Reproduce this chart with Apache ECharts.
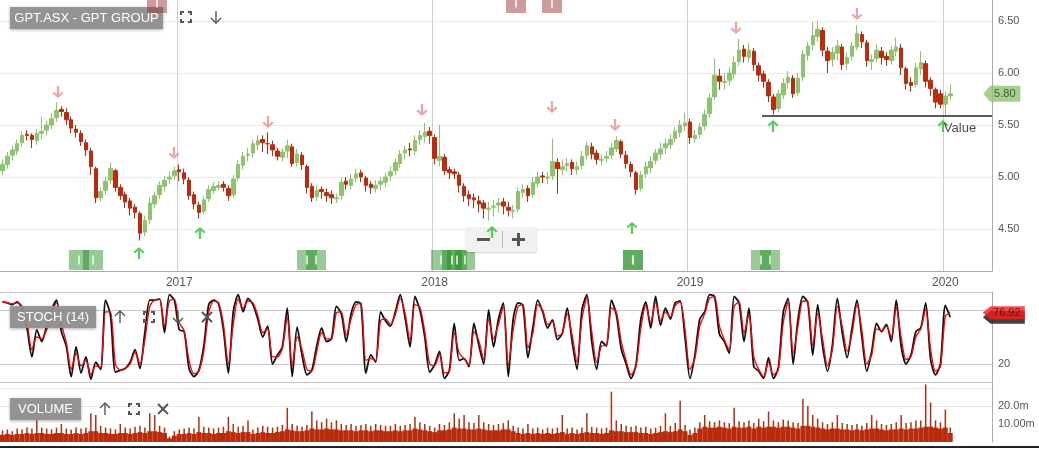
<!DOCTYPE html>
<html><head><meta charset="utf-8">
<script src="https://cdn.jsdelivr.net/npm/echarts@6/dist/echarts.min.js"></script>
<style>html,body{margin:0;padding:0;background:#fff;}#c{width:1039px;height:449px;}</style>
</head><body><div id="c"></div>
<script>
// ---- data (weekly bars, week ending Fridays from 2016-04-29) ----
const firstWeek = '2016-04-29';
const weekSlots = 202;
const yearTicks = [[36,'2017'],[88,'2018'],[140,'2019'],[192,'2020']];

const opens = [5.06,5.12,5.21,5.25,5.33,5.41,5.40,5.35,5.42,5.45,
5.50,5.57,5.65,5.62,5.55,5.46,5.42,5.33,5.25,5.08,
4.80,4.87,4.97,5.06,4.90,4.83,4.77,4.71,4.65,4.47,
4.59,4.74,4.83,4.91,4.98,5.01,5.07,5.04,4.97,4.83,
4.73,4.67,4.79,4.87,4.90,4.93,4.89,4.83,4.99,5.11,
5.21,5.23,5.31,5.36,5.32,5.31,5.25,5.19,5.25,5.29,
5.14,5.21,5.10,4.91,4.81,4.88,4.85,4.83,4.79,4.82,
4.96,4.92,4.99,5.04,4.99,4.93,4.89,4.93,4.95,5.01,
5.06,5.13,5.23,5.27,5.25,5.36,5.39,5.44,5.38,5.16,
5.19,5.07,5.05,5.02,4.91,4.83,4.80,4.77,4.75,4.69,
4.71,4.73,4.76,4.71,4.67,4.69,4.85,4.89,4.83,4.94,
5.01,4.99,5.01,5.14,5.07,5.11,5.14,5.07,5.11,5.21,
5.29,5.23,5.16,5.18,5.21,5.27,5.34,5.21,5.12,5.04,
4.89,5.03,5.09,5.16,5.22,5.28,5.31,5.37,5.43,5.49,
5.53,5.37,5.41,5.49,5.61,5.77,5.97,5.91,5.93,5.99,
6.11,6.23,6.15,6.21,6.07,5.99,5.91,5.77,5.66,5.79,
5.91,5.95,5.81,5.96,6.17,6.27,6.35,6.41,6.21,6.13,
6.19,6.25,6.09,6.16,6.25,6.37,6.29,6.11,6.14,6.21,
6.16,6.12,6.21,6.24,6.04,5.91,5.89,6.04,6.09,5.93,
5.84,5.80,5.70,5.78];
const closes = [5.12,5.20,5.26,5.32,5.40,5.40,5.36,5.42,5.44,5.50,
5.56,5.64,5.63,5.55,5.47,5.43,5.34,5.26,5.10,4.80,
4.86,4.96,5.08,4.90,4.82,4.76,4.70,4.66,4.46,4.58,
4.75,4.82,4.92,4.97,5.00,5.06,5.05,4.98,4.82,4.74,
4.66,4.78,4.88,4.91,4.92,4.90,4.82,4.98,5.12,5.20,
5.22,5.32,5.35,5.33,5.32,5.26,5.20,5.24,5.30,5.13,
5.22,5.12,4.90,4.80,4.87,4.86,4.82,4.80,4.80,4.95,
4.93,4.98,5.03,5.00,4.92,4.90,4.92,4.96,5.00,5.05,
5.14,5.22,5.26,5.26,5.35,5.40,5.43,5.40,5.18,5.20,
5.06,5.04,5.03,4.92,4.82,4.79,4.78,4.74,4.70,4.70,
4.72,4.75,4.72,4.68,4.68,4.86,4.88,4.82,4.95,5.00,
5.00,5.00,5.15,5.08,5.10,5.13,5.08,5.10,5.20,5.30,
5.22,5.17,5.17,5.20,5.28,5.35,5.22,5.13,5.05,4.88,
5.02,5.10,5.15,5.23,5.27,5.32,5.36,5.44,5.50,5.52,
5.38,5.40,5.48,5.60,5.76,5.98,5.92,5.92,6.00,6.10,
6.22,6.16,6.22,6.08,5.98,5.92,5.78,5.65,5.80,5.90,
5.96,5.80,5.95,6.18,6.26,6.36,6.42,6.22,6.12,6.20,
6.26,6.08,6.15,6.26,6.38,6.30,6.12,6.13,6.22,6.15,
6.13,6.22,6.25,6.05,5.90,5.88,6.05,6.10,5.92,5.85,
5.72,5.70,5.78,5.80];
const lows = [5.02,5.08,5.16,5.21,5.29,5.35,5.28,5.31,5.36,5.40,
5.46,5.53,5.58,5.50,5.42,5.38,5.30,5.20,5.02,4.75,
4.76,4.83,4.93,4.86,4.78,4.70,4.63,4.60,4.39,4.43,
4.55,4.70,4.79,4.86,4.93,4.97,4.96,4.93,4.78,4.69,
4.60,4.64,4.76,4.84,4.87,4.86,4.77,4.80,4.96,5.07,
5.15,5.19,5.26,5.24,5.22,5.20,5.16,5.15,5.18,5.10,
5.10,5.07,4.84,4.76,4.77,4.79,4.76,4.74,4.75,4.78,
4.88,4.88,4.95,4.95,4.86,4.84,4.85,4.87,4.90,4.96,
5.02,5.09,5.17,5.20,5.21,5.31,5.33,5.32,5.12,5.10,
5.02,4.98,4.98,4.85,4.76,4.72,4.70,4.66,4.60,4.58,
4.62,4.66,4.64,4.62,4.60,4.66,4.80,4.76,4.80,4.90,
4.94,4.93,4.97,4.84,5.02,5.05,5.02,5.02,5.07,5.17,
5.17,5.12,5.11,5.14,5.17,5.24,5.18,5.08,5.00,4.83,
4.86,4.99,5.04,5.12,5.17,5.22,5.27,5.33,5.38,5.44,
5.32,5.33,5.37,5.45,5.57,5.74,5.84,5.84,5.88,5.94,
6.07,6.10,6.10,6.02,5.92,5.86,5.72,5.60,5.62,5.75,
5.85,5.76,5.78,5.92,6.12,6.22,6.30,6.16,6.00,6.06,
6.12,6.03,6.03,6.12,6.22,6.24,6.06,6.03,6.10,6.08,
6.07,6.08,6.16,5.98,5.84,5.82,5.86,5.98,5.86,5.78,
5.66,5.66,5.60,5.74];
const highs = [5.17,5.24,5.30,5.36,5.44,5.45,5.42,5.46,5.58,5.54,
5.61,5.72,5.68,5.66,5.58,5.50,5.45,5.36,5.28,5.10,
4.90,5.00,5.14,5.08,4.93,4.86,4.80,4.74,4.67,4.63,
4.80,4.86,4.96,5.01,5.05,5.10,5.12,5.08,5.00,4.86,
4.76,4.82,4.92,4.95,4.96,4.96,4.92,5.02,5.16,5.24,
5.28,5.36,5.40,5.40,5.43,5.35,5.28,5.28,5.36,5.32,
5.27,5.24,5.12,4.94,4.92,4.91,4.89,4.87,4.84,5.00,
5.00,5.03,5.08,5.07,5.01,4.96,4.97,5.00,5.04,5.10,
5.18,5.26,5.30,5.33,5.40,5.45,5.52,5.48,5.41,5.50,
5.22,5.10,5.08,5.05,4.94,4.87,4.84,4.82,4.78,4.76,
4.78,4.80,4.80,4.76,4.73,4.90,4.93,4.92,5.00,5.05,
5.05,5.05,5.37,5.18,5.17,5.18,5.17,5.15,5.25,5.34,
5.33,5.26,5.22,5.25,5.33,5.39,5.36,5.25,5.15,5.06,
5.06,5.15,5.20,5.27,5.33,5.37,5.41,5.48,5.55,5.62,
5.56,5.45,5.52,5.65,5.80,6.14,6.04,6.00,6.06,6.16,
6.33,6.27,6.29,6.24,6.10,6.02,5.94,5.80,5.84,5.95,
6.02,5.98,6.00,6.22,6.30,6.49,6.50,6.44,6.25,6.25,
6.32,6.28,6.20,6.30,6.46,6.40,6.32,6.18,6.28,6.25,
6.20,6.26,6.34,6.28,6.06,5.96,6.10,6.21,6.12,5.96,
5.86,5.84,5.82,5.89];

const stochK = [89,88,86,89,82,60,28,58,45,62,
80,91,56,40,6,39,10,28,3,22,
14,91,74,11,13,15,22,36,15,55,
91,91,92,55,97,91,58,56,15,6,
13,40,86,91,87,58,10,78,97,78,
93,86,70,50,62,20,30,39,82,6,
61,30,8,13,40,60,45,48,84,76,
45,76,89,87,10,30,22,78,68,62,
78,97,71,39,95,80,50,11,19,34,
4,13,65,24,26,17,65,41,20,80,
39,70,88,6,70,88,85,27,60,91,
78,60,69,47,54,82,45,14,80,97,
45,14,45,40,91,75,37,20,4,19,
70,89,60,95,63,82,70,88,90,49,
4,30,70,78,97,95,53,45,32,95,
88,45,82,17,12,4,27,4,16,78,
93,20,70,95,88,30,86,40,12,41,
93,55,27,60,91,50,12,34,65,56,
64,45,91,40,20,30,56,60,88,25,
8,20,85,72];
const stochD = [89,88,87,88,84,66,36,50,48,58,
76,88,64,44,14,32,18,24,8,18,
16,78,78,20,13,15,20,33,20,47,
84,91,92,62,90,92,66,57,24,9,
12,34,77,90,88,64,20,64,92,82,
90,88,74,55,59,28,28,37,72,18,
50,36,14,12,34,55,48,48,77,78,
52,70,86,87,24,26,24,68,70,64,
75,93,76,46,86,83,56,20,18,31,
10,12,55,32,26,19,56,46,25,70,
48,64,84,18,58,84,86,38,54,86,
80,64,67,51,54,76,52,22,70,93,
56,22,40,41,82,78,45,24,8,17,
60,85,66,89,68,78,72,85,89,58,
14,26,62,76,93,95,62,47,36,84,
89,54,75,28,14,6,22,8,14,66,
89,32,62,90,89,40,76,48,18,36,
84,62,34,54,86,58,20,30,59,57,
62,50,83,50,25,28,50,59,81,36,
12,17,73,76.92];

// weekly typical daily volume (millions) and weekly largest daily volume
const volumeBase = [4,4.5,4,4.5,4.5,5,4.5,5,5,4.5,
4.5,5,5,4.5,4.5,5,4.5,5,6,6,
5,5,4.5,4.5,5,5,4.5,5,5.5,5,
6,6,5.5,5,2,3.5,4.5,4.5,5,4.5,
5.5,5,5,4.5,5,5,6,5.5,5,5.5,
5.5,4.5,5,5.5,5,5,5.5,6,7,6.5,
6,6,6.5,7.5,7,7,7.5,7,7,6.5,
6.5,6.5,6,6.5,6.5,6,6.5,6.5,6,6,
6.5,6,6.5,6.5,7.5,7,6.5,6,5.5,6.5,
6.5,7,8,7.5,7.5,7,7,7.5,7,6.5,
6.5,6.5,7,7,6,5,4.5,5,4.5,5,
4.5,5,4.5,5,5.5,4.5,5,4.5,5,5.5,
5,5,4.5,5,6.5,6,6,5.5,5.5,5.5,
5,5,4.5,5,5.5,6,5.5,6,7,6,
4,5,7.5,8.5,8,8,8.5,8,7.5,8.5,
8,8,8.5,7.5,8.5,8,8.5,8.5,8,8.5,
8.5,8,7.5,9,9,8.5,8,7.5,7,7.5,
7.5,7,7,6.5,7,6.5,7,7.5,7.5,7,
6.5,7,7,7.5,7,7.5,7.5,8,8.5,8.5,
8,7.5,8,5];
const volumePeak = [6.5,7,6,7.5,7,8,7.5,12,8,7.5,
7,8,10,7.5,7,8,7.5,8,16,15,
9,8,7.5,7,10,8,7.5,8.5,9,8,
16,15,9,8,3,6,7,7.5,8,7.5,
14,8.5,8,7.5,8,8.5,14,10,8.5,9,
12,7,8,9,8.5,8,8.5,9.5,19,10,
9,8.5,9.5,17,12,11,13,11,12,10,
9.5,10,9,9.5,10,9,10,9.5,9,9,
10,9,9.5,10,14,11,10,9,8,10,
9.5,11,16,13,15,11,10.5,15,11,10,
9.5,10,10.5,12,9,8,7.5,10,7.5,8,
7,8,7.5,8,15,7.5,8,7,8,16,
8.5,8,7.5,8,28,12,10,9,8.5,9,
8,8.5,7.5,8,9,16,9,10.5,23,9.5,
7,8,11,15,11.5,11,12,11,10.5,19,
11.5,11,12,10.5,13,11.5,17,12,11,12.5,
12,11,10.5,24,20,15,13,11,10,11,
15,10.5,10,9.5,10,9,10.5,15,12,10,
9.5,10,11,15,10.5,11,12,12,32,22,
12,11,18,8];

const sellSignals = [[11.31,5.817],[34.93,5.231],[54.07,5.529],[85.43,5.644],[111.90,5.673],[124.73,5.50],[149.37,6.433],[174.0,6.567]];
const buySignals = [[27.80,4.269],[40.22,4.462],[99.68,4.471],[128.19,4.51],[156.9,5.49],[191.52,5.49]];
const signalBlocks = [15.59,18.44,62.01,63.85,89.30,91.54,92.56,94.19,128.39,128.39,154.46,156.29];
const signalBlockLevel = 4.202;
const eventBlocks = [31.47,104.57,111.90];
const eventBlockLevel = 6.673;
const valueLevel = 5.587, valueFrom = 154.66, valueLabelAt = 191.7;
const tagSlot = 203.5;

// ---- build ----
const categories = [];
const d0 = new Date(firstWeek + 'T00:00:00Z');
for (let i = 0; i < weekSlots; i++) {
  const d = new Date(d0.getTime() + i * 7 * 86400000);
  categories.push(d.toISOString().slice(0, 10));
}
const yearMap = {}; yearTicks.forEach(t => yearMap[t[0]] = t[1]);
const candles = closes.map((c, i) => [opens[i], c, lows[i], highs[i]]);
const UP = '#8dc46f', DOWN = '#c0290d';
const upArrow = 'path://M5,0L10,5L8.6,6.4L6,3.8L6,12L4,12L4,3.8L1.4,6.4L0,5Z';
const downArrow = 'path://M5,12L10,7L8.6,5.6L6,8.2L6,0L4,0L4,8.2L1.4,5.6L0,7Z';
const tagPath = 'path://M0,8L7,0L38,0L38,16L7,16Z';

const grids = [
  {left: 0, right: 47, top: 0, height: 271},
  {left: 0, right: 47, top: 292, height: 90},
  {left: 0, right: 47, top: 383, height: 59}
];
const catAxis = (g, show) => ({
  type: 'category', gridIndex: g, data: categories, boundaryGap: true,
  axisLine: {show: show, onZero: false, lineStyle: {color: '#aaa'}}, axisTick: {show: false},
  axisLabel: {show: show, interval: (i) => yearMap[i] !== undefined, formatter: (v, i) => yearMap[i] || '',
    color: '#555', fontSize: 12, fontFamily: 'Arial', margin: 6},
  splitLine: {show: show, interval: (i) => yearMap[i] !== undefined, lineStyle: {color: '#cfcfcf'}}
});
const valAxisX = (g) => ({type: 'value', gridIndex: g, min: -0.5, max: weekSlots - 0.5, show: false});
const T = 'rgba(0,0,0,0)';
const yLine = {show: true, onZero: false, lineStyle: {color: '#aaa'}};

const option = {
  animation: false,
  grid: grids,
  xAxis: [catAxis(0, true), valAxisX(0), catAxis(1, false), catAxis(2, false), valAxisX(1), catAxis(2, false)],
  yAxis: [
    {type: 'value', gridIndex: 0, position: 'right', min: 4.096, max: 6.702, splitNumber: 5,
     axisLine: yLine, axisTick: {show: false},
     axisLabel: {color: '#555', fontSize: 11, fontFamily: 'Arial', margin: 6, showMinLabel: false, showMaxLabel: false,
       formatter: v => v.toFixed(2)},
     splitLine: {lineStyle: {color: '#ececec'}, showMinLine: false, showMaxLine: false}},
    {type: 'value', gridIndex: 1, position: 'right', min: 0, max: 100, interval: 20,
     axisLine: yLine, axisTick: {show: false},
     axisLabel: {color: '#555', fontSize: 11, fontFamily: 'Arial', margin: 6,
       formatter: v => v === 20 ? '20' : ''},
     splitLine: {lineStyle: {color: ['#c8c8c8', '#c8c8c8', T, T, '#c8c8c8', '#c8c8c8']}}},
    {type: 'value', gridIndex: 2, position: 'right', min: 0, max: 32.8, interval: 10,
     axisLine: yLine, axisTick: {show: false},
     axisLabel: {color: '#555', fontSize: 11, fontFamily: 'Arial', margin: 6,
       formatter: v => v === 10 ? '10.00m' : (v === 20 ? '20.0m' : '')},
     splitLine: {showMinLine: false, showMaxLine: false, lineStyle: {color: [T, '#e6e6e6', '#e6e6e6', T, T]}}}
  ],
  series: [
    {type: 'candlestick', xAxisIndex: 0, yAxisIndex: 0, data: candles, barWidth: 4,
     itemStyle: {color: UP, color0: DOWN, borderColor: UP, borderColor0: DOWN, borderWidth: 1}},
    {type: 'scatter', xAxisIndex: 1, yAxisIndex: 0, z: 30, silent: true,
     data: signalBlocks.map(i => [i, signalBlockLevel]), symbol: 'rect', symbolSize: [20, 20],
     itemStyle: {color: 'rgba(20,135,20,0.55)'}},
    {type: 'scatter', xAxisIndex: 1, yAxisIndex: 0, z: 31, silent: true,
     data: signalBlocks.map(i => [i, signalBlockLevel]), symbol: 'rect', symbolSize: [2, 9],
     itemStyle: {color: 'rgba(255,255,255,0.85)'}},
    {type: 'scatter', xAxisIndex: 1, yAxisIndex: 0, z: 130, silent: true, clip: false,
     data: eventBlocks.map(i => [i, eventBlockLevel]), symbol: 'rect', symbolSize: [20, 20],
     itemStyle: {color: 'rgba(150,45,45,0.6)'}},
    {type: 'scatter', xAxisIndex: 1, yAxisIndex: 0, z: 131, silent: true, clip: false,
     data: eventBlocks.map(i => [i, eventBlockLevel]), symbol: 'rect', symbolSize: [2, 9],
     itemStyle: {color: 'rgba(255,255,255,0.9)'}},
    {type: 'scatter', xAxisIndex: 1, yAxisIndex: 0, z: 130, silent: true,
     data: sellSignals, symbol: downArrow, symbolSize: [11, 12], itemStyle: {color: '#f28a8a'},
     markLine: {silent: true, symbol: ['none', 'none'], label: {show: false},
       lineStyle: {color: '#222', width: 1.5, type: 'solid'},
       data: [[{coord: [valueFrom, valueLevel]}, {coord: [weekSlots - 0.5, valueLevel]}]]}},
    {type: 'scatter', xAxisIndex: 1, yAxisIndex: 0, z: 130, silent: true,
     data: buySignals, symbol: upArrow, symbolSize: [11, 12], itemStyle: {color: '#29c629'}},
    {type: 'scatter', xAxisIndex: 1, yAxisIndex: 0, z: 130, silent: true,
     data: [[valueLabelAt, valueLevel]], symbolSize: 0,
     label: {show: true, formatter: 'Value', position: [0, 6], align: 'left', verticalAlign: 'top',
       color: '#222', fontSize: 13, fontFamily: 'Arial'}},
    {type: 'scatter', xAxisIndex: 1, yAxisIndex: 0, z: 130, silent: true, clip: false,
     data: [[tagSlot, closes[closes.length - 1]]], symbol: tagPath, symbolSize: [37, 16],
     itemStyle: {color: UP},
     label: {show: true, position: 'inside', offset: [3, 0], formatter: p => p.value[1].toFixed(2),
       color: '#333', fontSize: 11, fontFamily: 'Arial'}},
    {type: 'line', xAxisIndex: 2, yAxisIndex: 1, data: stochK, symbol: 'none', smooth: 0.25,
     lineStyle: {color: '#111', width: 1.8}},
    {type: 'line', xAxisIndex: 2, yAxisIndex: 1, data: stochD, symbol: 'none', smooth: 0.25,
     lineStyle: {color: '#ff0000', width: 1.3}},
    {type: 'scatter', xAxisIndex: 4, yAxisIndex: 1, z: 130, silent: true, clip: false,
     data: [[tagSlot + 0.4, stochK[stochK.length - 1]]], symbol: tagPath, symbolSize: [42, 13],
     itemStyle: {color: '#111'}},
    {type: 'scatter', xAxisIndex: 4, yAxisIndex: 1, z: 131, silent: true, clip: false,
     data: [[tagSlot + 0.4, stochD[stochD.length - 1]]], symbol: tagPath, symbolSize: [42, 13],
     itemStyle: {color: '#ff1a1a'},
     label: {show: true, position: 'inside', offset: [3, 0], formatter: p => p.value[1].toFixed(2),
       color: '#222', fontSize: 11, fontFamily: 'Arial'}},
    {type: 'bar', xAxisIndex: 3, yAxisIndex: 2, data: volumeBase, barCategoryGap: '0%',
     itemStyle: {color: '#b82c0c'}},
    {type: 'bar', xAxisIndex: 5, yAxisIndex: 2, data: volumePeak, barWidth: 1.5,
     itemStyle: {color: '#b82c0c'}}
  ],
  graphic: []
};

// ---- UI chrome ----
const G = option.graphic;
const box = (x, y, w, h, text) => {
  G.push({type: 'rect', z: 100, shape: {x: x, y: y, width: w, height: h},
    style: {fill: 'rgba(145,145,145,0.95)', shadowBlur: 3, shadowColor: 'rgba(0,0,0,0.35)', shadowOffsetY: 1}});
  G.push({type: 'text', z: 101, x: x + w / 2, y: y + h / 2,
    style: {text: text, fill: '#fff', font: '13px Arial', textAlign: 'center', textVerticalAlign: 'middle', align: 'center', verticalAlign: 'middle'}});
};
const ic = {stroke: '#555', lineWidth: 1.4, fill: null};
const fullIcon = (cx, cy) => {
  const a = 5, b = 2;
  [[[cx - a, cy - a + b + 1], [cx - a, cy - a], [cx - a + b + 1, cy - a]],
   [[cx + a - b - 1, cy - a], [cx + a, cy - a], [cx + a, cy - a + b + 1]],
   [[cx - a, cy + a - b - 1], [cx - a, cy + a], [cx - a + b + 1, cy + a]],
   [[cx + a - b - 1, cy + a], [cx + a, cy + a], [cx + a, cy + a - b - 1]]].forEach(p =>
    G.push({type: 'polyline', z: 101, shape: {points: p}, style: Object.assign({}, ic, {lineWidth: 2})}));
};
const arrowIcon = (cx, cy, up) => {
  const s = up ? -1 : 1;
  G.push({type: 'line', z: 101, shape: {x1: cx, y1: cy - 6 * s, x2: cx, y2: cy + 6 * s}, style: ic});
  G.push({type: 'polyline', z: 101, shape: {points: [[cx - 5, cy + s], [cx, cy + 6 * s], [cx + 5, cy + s]]}, style: ic});
};
const closeIcon = (cx, cy) => {
  G.push({type: 'line', z: 101, shape: {x1: cx - 5, y1: cy - 5, x2: cx + 5, y2: cy + 5}, style: Object.assign({}, ic, {lineWidth: 2})});
  G.push({type: 'line', z: 101, shape: {x1: cx + 5, y1: cy - 5, x2: cx - 5, y2: cy + 5}, style: Object.assign({}, ic, {lineWidth: 2})});
};
box(10, 7, 153, 22, 'GPT.ASX - GPT GROUP');
fullIcon(186, 17); arrowIcon(216, 17, false);
box(10, 306, 86, 22, 'STOCH (14)');
arrowIcon(120, 317, true); fullIcon(149, 317); arrowIcon(178, 317, false); closeIcon(207, 317);
box(10, 398, 71, 22, 'VOLUME');
arrowIcon(105, 409, true); fullIcon(134, 409); closeIcon(163, 409);
// zoom control
G.push({type: 'rect', z: 100, shape: {x: 466, y: 227, width: 71, height: 25, r: 3},
  style: {fill: '#f1f1f1', shadowBlur: 2, shadowColor: 'rgba(0,0,0,0.2)', shadowOffsetY: 1}});
G.push({type: 'rect', z: 101, shape: {x: 477, y: 238, width: 13, height: 3}, style: {fill: '#555'}});
G.push({type: 'line', z: 101, shape: {x1: 502.5, y1: 231, x2: 502.5, y2: 248}, style: {stroke: '#bbb', lineWidth: 1}});
G.push({type: 'rect', z: 101, shape: {x: 512, y: 238, width: 13, height: 3}, style: {fill: '#555'}});
G.push({type: 'rect', z: 101, shape: {x: 517, y: 233, width: 3, height: 13}, style: {fill: '#555'}});
// bottom rule
G.push({type: 'rect', z: 100, shape: {x: 0, y: 446, width: 1039, height: 2}, style: {fill: '#222'}});

const chart = echarts.init(document.getElementById('c'), null, {renderer: 'canvas'});
chart.setOption(option);
</script></body></html>
